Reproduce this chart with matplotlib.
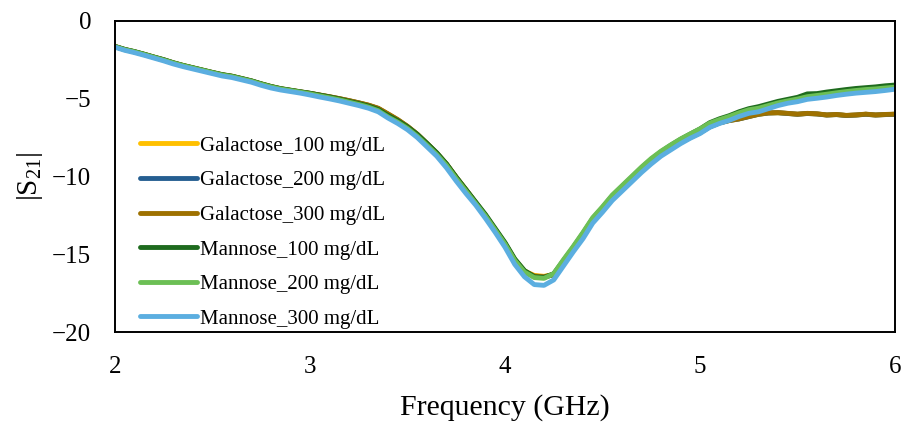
import matplotlib
matplotlib.use("Agg")
import matplotlib.pyplot as plt
import numpy as np

plt.rcParams['font.family'] = ['Liberation Serif', 'DejaVu Serif']
plt.rcParams['mathtext.default'] = 'regular'

freq = [2.00, 2.05, 2.10, 2.15, 2.20, 2.25, 2.30, 2.35, 2.40, 2.45,
        2.50, 2.55, 2.60, 2.65, 2.70, 2.75, 2.80, 2.85, 2.90, 2.95,
        3.00, 3.05, 3.10, 3.15, 3.20, 3.25, 3.30, 3.35, 3.40, 3.45,
        3.50, 3.55, 3.60, 3.65, 3.70, 3.75, 3.80, 3.85, 3.90, 3.95,
        4.00, 4.05, 4.10, 4.15, 4.20, 4.25, 4.30, 4.35, 4.40, 4.45,
        4.50, 4.55, 4.60, 4.65, 4.70, 4.75, 4.80, 4.85, 4.90, 4.95,
        5.00, 5.05, 5.10, 5.15, 5.20, 5.25, 5.30, 5.35, 5.40, 5.45,
        5.50, 5.55, 5.60, 5.65, 5.70, 5.75, 5.80, 5.85, 5.90, 5.95, 6.00]

galactose_100 = [-1.66, -1.85, -2.00, -2.16, -2.34, -2.52, -2.71, -2.88, -3.03, -3.18,
                 -3.33, -3.48, -3.57, -3.72, -3.88, -4.06, -4.23, -4.37, -4.47, -4.57,
                 -4.67, -4.78, -4.89, -5.01, -5.14, -5.28, -5.43, -5.64, -6.00, -6.37,
                 -6.80, -7.30, -7.90, -8.52, -9.22, -10.07, -10.87, -11.70, -12.52, -13.42,
                 -14.32, -15.36, -16.08, -16.36, -16.42, -16.30, -15.52, -14.72, -13.82, -12.87,
                 -12.16, -11.42, -10.82, -10.22, -9.63, -9.10, -8.62, -8.21, -7.83, -7.49,
                 -7.19, -6.81, -6.56, -6.42, -6.31, -6.16, -6.02, -5.93, -5.92, -5.96,
                 -6.01, -5.96, -5.99, -6.06, -6.03, -6.09, -6.06, -6.01, -6.06, -6.03, -6.01]

galactose_200 = [-1.66, -1.85, -2.00, -2.17, -2.35, -2.52, -2.72, -2.89, -3.04, -3.19,
                 -3.34, -3.48, -3.58, -3.73, -3.88, -4.07, -4.24, -4.38, -4.48, -4.58,
                 -4.67, -4.78, -4.89, -5.01, -5.14, -5.28, -5.44, -5.64, -6.01, -6.38,
                 -6.80, -7.30, -7.90, -8.52, -9.22, -10.07, -10.88, -11.70, -12.53, -13.43,
                 -14.33, -15.38, -16.12, -16.43, -16.47, -16.32, -15.52, -14.72, -13.82, -12.87,
                 -12.17, -11.42, -10.82, -10.22, -9.64, -9.10, -8.62, -8.22, -7.84, -7.50,
                 -7.20, -6.82, -6.57, -6.41, -6.31, -6.16, -6.01, -5.93, -5.91, -5.96,
                 -6.01, -5.96, -5.99, -6.06, -6.03, -6.09, -6.06, -6.01, -6.06, -6.03, -6.01]

galactose_300 = [-1.65, -1.85, -1.99, -2.16, -2.34, -2.51, -2.71, -2.88, -3.03, -3.18,
                 -3.33, -3.47, -3.57, -3.72, -3.87, -4.06, -4.23, -4.37, -4.47, -4.57,
                 -4.66, -4.77, -4.88, -5.00, -5.13, -5.27, -5.42, -5.62, -5.98, -6.35,
                 -6.78, -7.28, -7.88, -8.50, -9.20, -10.05, -10.85, -11.68, -12.50, -13.40,
                 -14.30, -15.35, -16.10, -16.40, -16.45, -16.30, -15.50, -14.70, -13.80, -12.85,
                 -12.15, -11.40, -10.80, -10.20, -9.62, -9.08, -8.60, -8.20, -7.82, -7.48,
                 -7.18, -6.80, -6.55, -6.40, -6.30, -6.15, -6.00, -5.92, -5.90, -5.95,
                 -6.00, -5.95, -5.98, -6.05, -6.02, -6.08, -6.05, -6.00, -6.05, -6.02, -6.00]

mannose_100 = [-1.65, -1.84, -1.98, -2.15, -2.33, -2.50, -2.70, -2.87, -3.02, -3.17,
               -3.32, -3.46, -3.56, -3.71, -3.86, -4.05, -4.22, -4.36, -4.46, -4.56,
               -4.66, -4.78, -4.90, -5.03, -5.18, -5.32, -5.48, -5.70, -6.08, -6.42,
               -6.82, -7.30, -7.88, -8.48, -9.20, -10.05, -10.85, -11.65, -12.45, -13.35,
               -14.25, -15.30, -16.05, -16.45, -16.50, -16.25, -15.40, -14.55, -13.65, -12.70,
               -12.00, -11.25, -10.65, -10.05, -9.45, -8.90, -8.42, -8.00, -7.62, -7.28,
               -6.95, -6.55, -6.30, -6.10, -5.85, -5.65, -5.52, -5.35, -5.18, -5.05,
               -4.92, -4.70, -4.68, -4.58, -4.50, -4.42, -4.35, -4.30, -4.25, -4.18, -4.13]

mannose_200 = [-1.67, -1.86, -2.00, -2.17, -2.35, -2.53, -2.72, -2.89, -3.04, -3.19,
               -3.34, -3.49, -3.59, -3.74, -3.89, -4.08, -4.25, -4.39, -4.49, -4.59,
               -4.70, -4.83, -4.95, -5.08, -5.23, -5.38, -5.55, -5.78, -6.18, -6.52,
               -6.92, -7.42, -8.00, -8.60, -9.30, -10.15, -10.95, -11.75, -12.55, -13.45,
               -14.35, -15.40, -16.15, -16.50, -16.55, -16.25, -15.35, -14.50, -13.60, -12.65,
               -11.95, -11.20, -10.60, -10.00, -9.40, -8.85, -8.38, -7.98, -7.60, -7.27,
               -6.95, -6.58, -6.35, -6.15, -5.92, -5.72, -5.62, -5.45, -5.28, -5.15,
               -5.03, -4.88, -4.80, -4.72, -4.63, -4.55, -4.48, -4.42, -4.38, -4.32, -4.27]

mannose_300 = [-1.70, -1.90, -2.05, -2.22, -2.40, -2.58, -2.78, -2.95, -3.10, -3.25,
               -3.40, -3.55, -3.65, -3.80, -3.95, -4.15, -4.32, -4.45, -4.55, -4.65,
               -4.77, -4.90, -5.02, -5.15, -5.30, -5.45, -5.62, -5.85, -6.25, -6.60,
               -7.00, -7.50, -8.10, -8.70, -9.45, -10.30, -11.10, -11.85, -12.70, -13.60,
               -14.55, -15.65, -16.45, -16.95, -17.00, -16.65, -15.75, -14.85, -14.00, -13.00,
               -12.30, -11.55, -10.95, -10.35, -9.75, -9.20, -8.70, -8.30, -7.90, -7.55,
               -7.25, -6.85, -6.60, -6.40, -6.15, -5.95, -5.85, -5.65, -5.45, -5.30,
               -5.20, -5.05, -4.98, -4.90, -4.80, -4.72, -4.65, -4.60, -4.55, -4.48, -4.40]

labels = ['Galactose_100 mg/dL', 'Galactose_200 mg/dL', 'Galactose_300 mg/dL',
          'Mannose_100 mg/dL', 'Mannose_200 mg/dL', 'Mannose_300 mg/dL']
series = [galactose_100, galactose_200, galactose_300, mannose_100, mannose_200, mannose_300]
colors = ['#FFC000', '#255E91', '#9E7100', '#1E6B1E', '#6CBF55', '#5BAEE0']

x_ticks = [2, 3, 4, 5, 6]
y_ticks = [0, -5, -10, -15, -20]

fig = plt.figure(figsize=(9.05, 4.23), dpi=100)
ax = fig.add_axes([0.127, 0.215, 0.862, 0.736])

for s, c, lab in zip(series, colors, labels):
    ax.plot(freq, s, color=c, lw=3.5, label=lab, solid_capstyle='round')

ax.set_xlim(2, 6)
ax.set_ylim(-20, 0)
ax.set_xticks(x_ticks)
ax.set_yticks(y_ticks)
ax.tick_params(axis='both', length=0, labelsize=18)
ax.tick_params(axis='x', pad=17)
ax.tick_params(axis='y', pad=17)
for sp in ax.spines.values():
    sp.set_linewidth(1.4)
    sp.set_color('black')

ax.set_xlabel('Frequency (GHz)', fontsize=21.5, labelpad=12)
ax.set_ylabel('|S$_{21}$|', fontsize=21, labelpad=5)

leg = ax.legend(loc='center left', bbox_to_anchor=(0.022, 0.32), frameon=False,
                fontsize=15, handlelength=2.7, handletextpad=0.15,
                labelspacing=0.72, borderaxespad=0, borderpad=0.4)

fig.savefig('out.png', dpi=100)
